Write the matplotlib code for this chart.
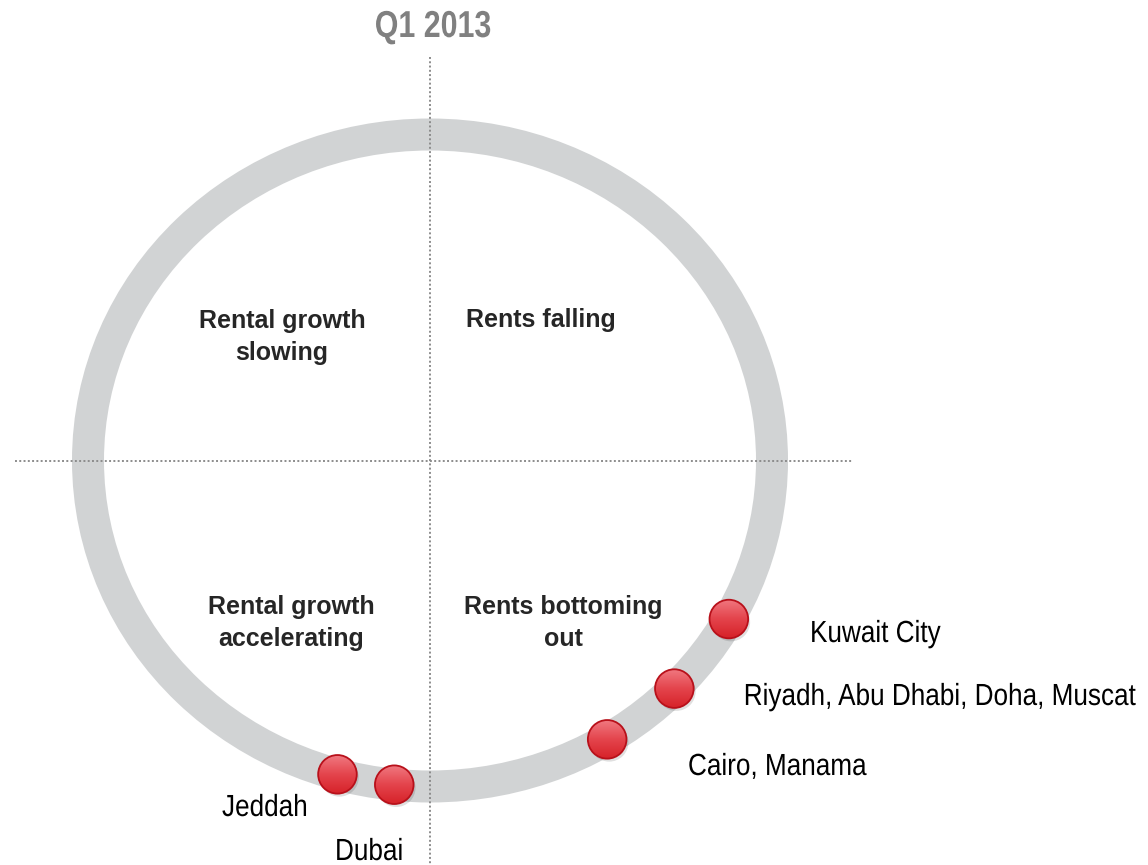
import numpy as np
import matplotlib
matplotlib.use("Agg")
import matplotlib.pyplot as plt
from matplotlib.patches import Ellipse, Circle
from matplotlib.colors import LinearSegmentedColormap
from matplotlib.patheffects import AbstractPathEffect
from matplotlib.transforms import Affine2D

# ---- data -------------------------------------------------------------
title = "Q1 2013"
quadrant_labels = ["Rental growth\nslowing", "Rents falling",
                   "Rental growth\naccelerating", "Rents bottoming\nout"]
cities = ["Kuwait City", "Riyadh, Abu Dhabi, Doha, Muscat", "Cairo, Manama",
          "Jeddah", "Dubai"]
# position of each market on the rental clock (degrees, counter-clockwise from 3 o'clock)
cycle_angle = [-29.1, -44.4, -58.8, -105.7, -96.0]


class Condense(AbstractPathEffect):
    """Narrow a text horizontally around its anchor point."""

    def __init__(self, text, sx):
        super().__init__()
        self.text = text
        self.sx = sx

    def draw_path(self, renderer, gc, tpath, affine, rgbFace=None):
        x0 = self.text.get_transform().transform(self.text.get_position())[0]
        a = affine + Affine2D().translate(-x0, 0).scale(self.sx, 1).translate(x0, 0)
        renderer.draw_path(gc, tpath, a, rgbFace)


def narrow_text(ax, x, y, s, sx, **kw):
    t = ax.text(x, y, s, **kw)
    t.set_path_effects([Condense(t, sx)])
    return t


FONT = "Liberation Sans"
W, H = 1148, 865
fig = plt.figure(figsize=(W / 100, H / 100), dpi=100)
ax = fig.add_axes([0, 0, 1, 1])
ax.set_xlim(0, W)
ax.set_ylim(H, 0)
ax.axis("off")

cx, cy = 430, 460.5
rx, ry = 342, 326

# ring
ax.add_patch(Ellipse((cx, cy), 2 * rx, 2 * ry, fill=False,
                     edgecolor="#d1d3d4", linewidth=32 * 0.72, zorder=1))

# dotted axes
dot = dict(color="#8c8c8c", linewidth=1.4, linestyle=(0, (1, 1.2)), zorder=2)
ax.plot([cx, cx], [57, H], **dot)
ax.plot([15, 853], [cy, cy], **dot)

# title
narrow_text(ax, 433, 37, title, 0.81, family=[FONT], fontweight="bold",
            fontsize=27, color="#808080", ha="center", va="baseline")

# quadrant labels
qstyle = dict(family=[FONT], fontweight="bold", fontsize=18, color="#262626",
              ha="center", va="baseline", linespacing=1.42, ma="center")
ax.text(282, 360, quadrant_labels[0], **qstyle)
ax.text(541, 327, quadrant_labels[1], **qstyle)
ax.text(291, 646, quadrant_labels[2], **qstyle)
ax.text(563, 646, quadrant_labels[3], **qstyle)

# markers
cmap = LinearSegmentedColormap.from_list("ball", ["#f07880", "#e4444c", "#d62229"])
grad = np.linspace(0, 1, 64).reshape(-1, 1)
r = 19.3
for ang in cycle_angle:
    t = np.deg2rad(ang)
    x = cx + rx * np.cos(t)
    y = cy - ry * np.sin(t)
    ax.add_patch(Circle((x + 2, y + 3), r, facecolor="#000000", alpha=0.12,
                        edgecolor="none", zorder=3))
    im = ax.imshow(grad, extent=(x - r, x + r, y + r, y - r), origin="upper",
                   cmap=cmap, aspect="auto", zorder=4, interpolation="bilinear")
    clip = Circle((x, y), r, transform=ax.transData, facecolor="none",
                  edgecolor="none")
    ax.add_patch(clip)
    im.set_clip_path(clip)
    ax.add_patch(Circle((x, y), r, facecolor="none", edgecolor="#b8101a",
                        linewidth=1.3, zorder=5))

# city labels (anchor x, baseline y, horizontal alignment)
label_pos = [(810, 642, "left"), (1135, 705, "right"), (688, 775, "left"),
             (222, 816, "left"), (335, 860, "left")]
for name, (lx, ly, ha) in zip(cities, label_pos):
    narrow_text(ax, lx, ly, name, 0.855, family=[FONT], fontsize=22,
                color="#000000", ha=ha, va="baseline")

ax.set_xlim(0, W)
ax.set_ylim(H, 0)
fig.savefig("out.png", dpi=100)
